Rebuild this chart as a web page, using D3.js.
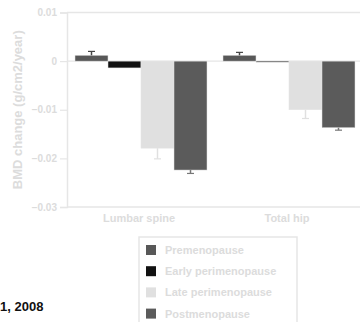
<!DOCTYPE html>
<html>
<head>
<meta charset="utf-8">
<script src="https://cdn.jsdelivr.net/npm/d3@7"></script>
<style>
  html, body { margin: 0; padding: 0; background: #fff; }
  svg { display: block; font-family: Arial, "Liberation Sans", sans-serif; font-weight: bold; }
</style>
</head>
<body>
<svg id="chart" width="360" height="322"></svg>
<script>
// Annual BMD change by menopausal stage, per skeletal site
const sites = ["Lumbar spine", "Total hip"];
const stages = ["Premenopause", "Early perimenopause", "Late perimenopause", "Postmenopause"];
const stageColors = ["#585858", "#111111", "#e0e0e0", "#5b5b5b"];
const premenopause = [0.0012, 0.0012];
const earlyPeri = [-0.0014, -0.0002];
const latePeri = [-0.0179, -0.0100];
const postmeno = [-0.0224, -0.0137];
// one-sided error bars (drawn away from zero)
const premenopauseErr = [0.0008, 0.0006];
const earlyPeriErr = [0, 0];
const latePeriErr = [0.0022, 0.0018];
const postmenoErr = [0.0007, 0.0005];
const yTicks = [0.01, 0, -0.01, -0.02, -0.03];
const yTitle = "BMD change (g/cm2/year)";
const sourceNote = "1, 2008";

const seriesValues = [premenopause, earlyPeri, latePeri, postmeno];
const seriesErr = [premenopauseErr, earlyPeriErr, latePeriErr, postmenoErr];

const svg = d3.select("#chart");
const textColor = "#dcdcdc";
const lineColor = "#e6e6e6";

const plot = { left: 67, right: 363, top: 12.5, bottom: 207 };

const y = d3.scaleLinear().domain([-0.03, 0.01]).range([plot.bottom, plot.top]);
const x0 = d3.scaleBand().domain(sites).range([plot.left, plot.right]).paddingInner(0).paddingOuter(0);
const x1 = d3.scaleBand().domain(stages).range([8, x0.bandwidth() - 8]).padding(0);

// frame
svg.append("line").attr("x1", plot.left).attr("x2", plot.right)
  .attr("y1", plot.top).attr("y2", plot.top)
  .attr("stroke", lineColor).attr("stroke-width", 1.5);
svg.append("line").attr("x1", plot.left).attr("x2", plot.right)
  .attr("y1", plot.bottom).attr("y2", plot.bottom)
  .attr("stroke", lineColor).attr("stroke-width", 1.5);
// zero line
svg.append("line").attr("x1", plot.left).attr("x2", plot.right)
  .attr("y1", y(0)).attr("y2", y(0))
  .attr("stroke", lineColor).attr("stroke-width", 1.2);

// y axis
const yAxis = d3.axisLeft(y).tickValues(yTicks).tickSize(7).tickPadding(3)
  .tickFormat(d => d === 0 ? "0" : d3.format(".2f")(d));
const yG = svg.append("g").attr("transform", `translate(${plot.left},0)`).call(yAxis);
yG.select(".domain").attr("stroke", lineColor).attr("stroke-width", 1.5);
yG.selectAll(".tick line").attr("stroke", lineColor).attr("stroke-width", 1.2);
yG.selectAll(".tick text").attr("fill", textColor)
  .style("font-size", "10px").style("font-weight", "bold").style("font-family", "Arial, 'Liberation Sans', sans-serif");

// y axis title
svg.append("text")
  .attr("transform", `translate(22,${(plot.top + plot.bottom) / 2}) rotate(-90)`)
  .attr("text-anchor", "middle")
  .attr("fill", textColor)
  .style("font-size", "13px")
  .text(yTitle);

// bars
const groups = svg.append("g").selectAll("g")
  .data(sites).join("g")
  .attr("transform", d => `translate(${x0(d)},0)`);

stages.forEach((stage, si) => {
  groups.append("rect")
    .attr("x", x1(stage))
    .attr("width", x1.bandwidth())
    .attr("y", (d, i) => y(Math.max(0, seriesValues[si][i])))
    .attr("height", (d, i) => Math.max(1, Math.abs(y(seriesValues[si][i]) - y(0))))
    .attr("fill", stageColors[si])
    .attr("stroke", "#e4e4e4")
    .attr("stroke-width", 0.5);
});

// error bars
stages.forEach((stage, si) => {
  const errColor = si === 2 ? "#e0e0e0" : (si === 3 ? "#777" : "#444");
  groups.each(function (site, i) {
    const v = seriesValues[si][i];
    const e = seriesErr[si][i];
    if (!e) return;
    const end = v + Math.sign(v) * e;
    const cx = x0.bandwidth() === 0 ? 0 : x1(stage) + x1.bandwidth() / 2;
    const g = d3.select(this);
    g.append("line").attr("x1", cx).attr("x2", cx)
      .attr("y1", y(v)).attr("y2", y(end))
      .attr("stroke", errColor).attr("stroke-width", 1.5);
    g.append("line").attr("x1", cx - 3.5).attr("x2", cx + 3.5)
      .attr("y1", y(end)).attr("y2", y(end))
      .attr("stroke", errColor).attr("stroke-width", 1.2);
  });
});

// category labels
svg.append("g").selectAll("text")
  .data(sites).join("text")
  .attr("x", d => x0(d) + x0.bandwidth() / 2 - 2)
  .attr("y", 222)
  .attr("text-anchor", "middle")
  .attr("fill", textColor)
  .style("font-size", "11px")
  .text(d => d);

// legend
const legend = svg.append("g").attr("transform", "translate(139,237)");
legend.append("rect")
  .attr("x", 0).attr("y", 0).attr("width", 158).attr("height", 100)
  .attr("fill", "none").attr("stroke", lineColor).attr("stroke-width", 1.5);
const items = legend.selectAll("g.item").data(stages).join("g")
  .attr("class", "item")
  .attr("transform", (d, i) => `translate(7,${13 + i * 21.2})`);
items.append("rect")
  .attr("x", 0).attr("y", -5).attr("width", 10).attr("height", 10)
  .attr("fill", (d, i) => stageColors[i]);
items.append("text")
  .attr("x", 19).attr("y", 4)
  .attr("fill", textColor)
  .style("font-size", "11px")
  .text(d => d);

// source note
svg.append("text")
  .attr("x", 0).attr("y", 311)
  .attr("fill", "#111")
  .style("font-size", "13px")
  .text(sourceNote);
</script>
</body>
</html>
